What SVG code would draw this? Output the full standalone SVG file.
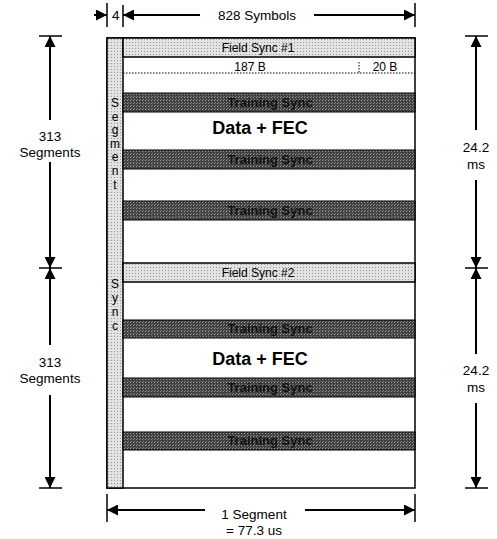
<svg xmlns="http://www.w3.org/2000/svg" width="497" height="539" viewBox="0 0 497 539">
<defs>
<marker id="ah" viewBox="0 0 10 10" refX="10" refY="5" markerWidth="13" markerHeight="11" markerUnits="userSpaceOnUse" orient="auto">
<path d="M0,0 L10,5 L0,10 Z" fill="#000"/>
</marker>
<pattern id="dots" width="3" height="3" patternUnits="userSpaceOnUse">
<rect width="3" height="3" fill="#e2e2e2"/>
<rect width="1" height="1" fill="#9a9a9a"/>
</pattern>
<pattern id="dark" width="3" height="3" patternUnits="userSpaceOnUse">
<rect width="3" height="3" fill="#404040"/>
<rect x="1" y="1" width="1" height="1" fill="#a0a0a0"/>
<rect x="2" y="0" width="1" height="1" fill="#808080"/>
</pattern>
</defs>
<style>
text{font-family:"Liberation Sans",Arial,sans-serif;fill:#000}
.dim{stroke:#000;stroke-width:2;fill:none}
.tick{stroke:#000;stroke-width:1.5}
.lbl{font-size:13.5px;text-anchor:middle}
.fs{fill:url(#dots);stroke:#000;stroke-width:1.5}
.ts{fill:url(#dark);stroke:#000;stroke-width:1}
.tst{font-size:13px;font-weight:bold;text-anchor:middle;fill:#111}
.fst{font-size:12px;text-anchor:middle}
.data{font-size:18px;font-weight:bold;text-anchor:middle}
.ss{font-size:12px;text-anchor:middle}
</style>
<g id="frame">
<rect x="107" y="38" width="308" height="450" fill="#fff" stroke="#000" stroke-width="1.5"/>
</g>
<g id="segment-sync">
<rect x="107" y="38" width="16" height="450" fill="url(#dots)" stroke="#000" stroke-width="1.5"/>
<text class="ss" x="115" y="107">S</text>
<text class="ss" x="115" y="121">e</text>
<text class="ss" x="115" y="134">g</text>
<text class="ss" x="115" y="148">m</text>
<text class="ss" x="115" y="161">e</text>
<text class="ss" x="115" y="175">n</text>
<text class="ss" x="115" y="189">t</text>
<text class="ss" x="115" y="288">S</text>
<text class="ss" x="115" y="302">y</text>
<text class="ss" x="115" y="316">n</text>
<text class="ss" x="115" y="330">c</text>
</g>
<g id="field-sync-1">
<rect class="fs" x="123" y="38" width="292" height="19"/>
<text class="fst" x="258" y="52">Field Sync #1</text>
</g>
<g id="byte-split">
<line x1="123" y1="73" x2="415" y2="73" stroke="#000" stroke-width="1" stroke-dasharray="1.5,1.5"/>
<line x1="359" y1="62" x2="359" y2="73" stroke="#000" stroke-width="1" stroke-dasharray="1.5,1.5"/>
<text class="fst" x="250" y="71">187 B</text>
<text class="fst" x="385" y="71">20 B</text>
</g>
<g id="training-1">
<rect class="ts" x="123" y="93" width="292" height="19"/>
<text class="tst" x="270" y="107">Training Sync</text>
</g>
<g id="data-1">
<text class="data" x="260" y="134">Data + FEC</text>
</g>
<g id="training-2">
<rect class="ts" x="123" y="150" width="292" height="19"/>
<text class="tst" x="270" y="164">Training Sync</text>
</g>
<g id="training-3">
<rect class="ts" x="123" y="201" width="292" height="19"/>
<text class="tst" x="270" y="215">Training Sync</text>
</g>
<g id="field-sync-2">
<rect class="fs" x="123" y="263" width="292" height="19"/>
<text class="fst" x="258" y="277">Field Sync #2</text>
</g>
<g id="training-4">
<rect class="ts" x="123" y="320" width="292" height="18"/>
<text class="tst" x="270" y="333">Training Sync</text>
</g>
<g id="data-2">
<text class="data" x="260" y="365">Data + FEC</text>
</g>
<g id="training-5">
<rect class="ts" x="123" y="378" width="292" height="19"/>
<text class="tst" x="270" y="392">Training Sync</text>
</g>
<g id="training-6">
<rect class="ts" x="123" y="432" width="292" height="18"/>
<text class="tst" x="270" y="445">Training Sync</text>
</g>
<g id="connectors">
<line class="tick" x1="107" y1="3" x2="107" y2="27"/>
<line class="tick" x1="123" y1="5" x2="123" y2="27"/>
<line class="tick" x1="415" y1="3" x2="415" y2="27"/>
<line class="dim" x1="94" y1="15" x2="107" y2="15" marker-end="url(#ah)"/>
<line class="dim" x1="200" y1="15" x2="123" y2="15" marker-end="url(#ah)"/>
<line class="dim" x1="314" y1="15" x2="415" y2="15" marker-end="url(#ah)"/>
<line class="tick" x1="39" y1="36" x2="62" y2="36"/>
<line class="tick" x1="39" y1="268" x2="62" y2="268"/>
<line class="tick" x1="39" y1="488" x2="62" y2="488"/>
<line class="dim" x1="50" y1="120" x2="50" y2="36" marker-end="url(#ah)"/>
<line class="dim" x1="50" y1="162" x2="50" y2="268" marker-end="url(#ah)"/>
<line class="dim" x1="50" y1="345" x2="50" y2="268" marker-end="url(#ah)"/>
<line class="dim" x1="50" y1="395" x2="50" y2="488" marker-end="url(#ah)"/>
<line class="tick" x1="465" y1="36" x2="488" y2="36"/>
<line class="tick" x1="465" y1="268" x2="488" y2="268"/>
<line class="tick" x1="465" y1="488" x2="488" y2="488"/>
<line class="dim" x1="476" y1="130" x2="476" y2="36" marker-end="url(#ah)"/>
<line class="dim" x1="476" y1="180" x2="476" y2="268" marker-end="url(#ah)"/>
<line class="dim" x1="476" y1="354" x2="476" y2="268" marker-end="url(#ah)"/>
<line class="dim" x1="476" y1="403" x2="476" y2="488" marker-end="url(#ah)"/>
<line class="tick" x1="107" y1="494" x2="107" y2="522"/>
<line class="tick" x1="415" y1="494" x2="415" y2="522"/>
<line class="dim" x1="205" y1="510" x2="107" y2="510" marker-end="url(#ah)"/>
<line class="dim" x1="305" y1="510" x2="415" y2="510" marker-end="url(#ah)"/>
</g>
<g id="labels">
<text x="112" y="20" font-size="13.5">4</text>
<text class="lbl" x="257" y="20">828 Symbols</text>
<text class="lbl" x="50" y="141">313</text>
<text class="lbl" x="50" y="157">Segments</text>
<text class="lbl" x="50" y="367">313</text>
<text class="lbl" x="50" y="383">Segments</text>
<text class="lbl" x="476" y="152">24.2</text>
<text class="lbl" x="476" y="169">ms</text>
<text class="lbl" x="476" y="375">24.2</text>
<text class="lbl" x="476" y="392">ms</text>
<text class="lbl" x="254" y="519">1 Segment</text>
<text class="lbl" x="254" y="535">= 77.3 us</text>
</g>
</svg>
